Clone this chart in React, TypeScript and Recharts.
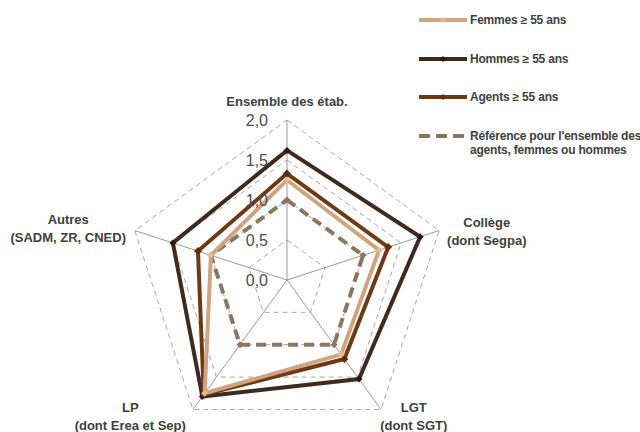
import { RadarChart, Radar, PolarGrid, PolarAngleAxis, PolarRadiusAxis, Legend } from 'recharts';

const categories = ['Ensemble des étab.', 'Collège', 'LGT', 'LP', 'Autres'];
const subLabels = ['', '(dont Segpa)', '(dont SGT)', '(dont Erea et Sep)', '(SADM, ZR, CNED)'];
const femmes = [1.25, 1.21, 1.15, 1.75, 1.0];
const hommes = [1.62, 1.75, 1.53, 1.8, 1.5];
const agents = [1.33, 1.33, 1.22, 1.77, 1.17];
const reference = [1.0, 1.0, 1.0, 1.0, 1.0];
const radiusTicks = [0, 0.5, 1, 1.5, 2];

const data = categories.map((c, i) => ({
  cat: c,
  sub: subLabels[i],
  femmes: femmes[i],
  hommes: hommes[i],
  agents: agents[i],
  reference: reference[i],
}));

const FONT = '"Liberation Sans", Arial, sans-serif';
const COL = {
  femmes: '#D0A480',
  femmesDot: '#EDB98C',
  hommes: '#3F2B1E',
  hommesDot: '#2A1A10',
  agents: '#6E3A16',
  agentsDot: '#5A2E0E',
  reference: '#8B765E',
  grid: '#A6A6A6',
  spoke: '#999999',
  text: '#404040',
};

// offsets of label block centre from the tick anchor, per axis
const LABEL_SHIFT = [
  { dx: 0, dy: -11 },
  { dx: 40, dy: -6 },
  { dx: 28, dy: -8 },
  { dx: -58, dy: -8 },
  { dx: -59, dy: -9 },
];

const diamond = (color: string, s = 3.5) => (props: any) => {
  const { cx, cy, index } = props;
  if (cx == null || cy == null) return <g key={index} />;
  return (
    <path
      key={index}
      d={`M${cx},${cy - s}L${cx + s},${cy}L${cx},${cy + s}L${cx - s},${cy}Z`}
      fill={color}
    />
  );
};

function AngleTick(props: any) {
  const { x, y, payload, index } = props;
  const d = data[index] ?? data.find(r => r.cat === payload.value);
  const sh = LABEL_SHIFT[index] ?? { dx: 0, dy: 0 };
  const cx = x + sh.dx;
  const style = { fontFamily: FONT, fontSize: 13, fontWeight: 700, fill: COL.text };
  if (!d || !d.sub) {
    return (
      <text x={cx} y={y + sh.dy} textAnchor="middle" dominantBaseline="central" style={style}>
        {payload.value}
      </text>
    );
  }
  return (
    <g>
      <text x={cx} y={y + sh.dy} textAnchor="middle" dominantBaseline="central" style={style}>
        {payload.value}
      </text>
      <text x={cx} y={y + sh.dy + 18} textAnchor="middle" dominantBaseline="central" style={style}>
        {d.sub}
      </text>
    </g>
  );
}

function RadiusTick(props: any) {
  const { x, y, payload } = props;
  return (
    <text
      x={x - 19}
      y={y}
      textAnchor="end"
      dominantBaseline="central"
      style={{ fontFamily: FONT, fontSize: 16, fill: '#4d4d4d' }}
    >
      {Number(payload.value).toFixed(1).replace('.', ',')}
    </text>
  );
}

const legendItems = [
  { label: 'Femmes ≥ 55 ans', color: COL.femmes, dot: COL.femmesDot, dashed: false },
  { label: 'Hommes ≥ 55 ans', color: COL.hommes, dot: COL.hommesDot, dashed: false },
  { label: 'Agents ≥ 55 ans', color: COL.agents, dot: COL.agentsDot, dashed: false },
  { label: "Référence pour l'ensemble des\nagents, femmes ou hommes", color: COL.reference, dot: COL.reference, dashed: true },
];

function LegendBox() {
  return (
    <div style={{ fontFamily: FONT, fontSize: 12, fontWeight: 700, color: COL.text, letterSpacing: -0.2 }}>
      {legendItems.map((it, i) => (
        <div key={i} style={{ display: 'flex', alignItems: 'flex-start', height: 38.5 }}>
          <svg width={50} height={14} style={{ flex: 'none' }}>
            <line
              x1={1}
              x2={49}
              y1={7}
              y2={7}
              stroke={it.color}
              strokeWidth={4}
              strokeDasharray={it.dashed ? '11 6' : undefined}
            />
            {!it.dashed && <path d="M25,4L28,7L25,10L22,7Z" fill={it.dot} />}
          </svg>
          <div style={{ whiteSpace: 'pre', lineHeight: '14px', marginLeft: 2 }}>{it.label}</div>
        </div>
      ))}
    </div>
  );
}

export default function App() {
  return (
    <div style={{ position: 'absolute', left: 0, top: 0, width: 640, height: 432, background: '#fff' }}>
      <RadarChart width={640} height={432} cx={287} cy={280} outerRadius={160} data={data}>
        <PolarGrid gridType="polygon" radialLines={false} stroke={COL.grid} strokeDasharray="5 4" />
        <PolarGrid gridType="polygon" polarRadius={[]} stroke={COL.spoke} />
        <PolarAngleAxis dataKey="cat" tick={<AngleTick />} tickLine={false} axisLine={false} />
        <PolarRadiusAxis
          angle={90}
          domain={[0, 2]}
          ticks={radiusTicks as any}
          tickCount={5}
          tick={<RadiusTick />}
          axisLine={false}
          tickLine={false}
        />
        <Radar
          dataKey="reference"
          stroke={COL.reference}
          strokeWidth={4}
          strokeDasharray="10 6"
          fill="none"
          fillOpacity={0}
          dot={diamond(COL.reference)}
          isAnimationActive={false}
        />
        <Radar
          dataKey="hommes"
          stroke={COL.hommes}
          strokeWidth={4}
          fill="none"
          fillOpacity={0}
          dot={diamond(COL.hommesDot)}
          isAnimationActive={false}
        />
        <Radar
          dataKey="agents"
          stroke={COL.agents}
          strokeWidth={4}
          fill="none"
          fillOpacity={0}
          dot={diamond(COL.agentsDot, 4)}
          isAnimationActive={false}
        />
        <Radar
          dataKey="femmes"
          stroke={COL.femmes}
          strokeWidth={4}
          fill="none"
          fillOpacity={0}
          dot={diamond(COL.femmesDot)}
          isAnimationActive={false}
        />
        <Legend
          layout="vertical"
          verticalAlign="top"
          align="right"
          content={<LegendBox />}
          wrapperStyle={{ top: 13, left: 418, width: 222 }}
        />
      </RadarChart>
    </div>
  );
}
